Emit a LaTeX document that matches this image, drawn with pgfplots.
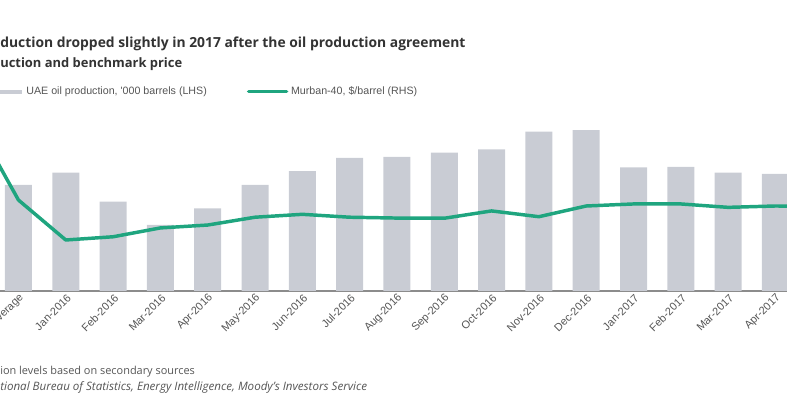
\documentclass[border=0pt]{standalone}
\usepackage{pgfplots}
\pgfplotsset{compat=1.18}
\usepackage{fontspec}
\setmainfont{Open Sans}
\newfontfamily\arialf{Liberation Sans}
\definecolor{bargray}{HTML}{C9CCD4}
\definecolor{murban}{HTML}{1FA57F}
\definecolor{axgray}{HTML}{8C8C8C}
\definecolor{titlecol}{HTML}{333333}
\definecolor{labcol}{HTML}{555555}

\pgfplotstableread{
x val
0 2929
1 2967
2 2877
3 2805
4 2856
5 2929
6 2972
7 3013
8 3016
9 3029
10 3039
11 3094
12 3099
13 2983
14 2985
15 2967
16 2963
}\prodtable

\pgfplotstableread{
x val
-1 103.5
0 53.5
1 30.0
2 31.9
3 37.1
4 38.8
5 43.4
6 45.1
7 43.4
8 42.9
9 42.8
10 47.1
11 43.7
12 50.0
13 51.2
14 51.2
15 49.2
16 50.0
17 49.8
}\murbantable

\begin{document}
\begin{tikzpicture}
\useasboundingbox (0pt,0pt) rectangle (590.25pt,299.25pt);
\clip (0pt,0pt) rectangle (590.25pt,299.25pt);
\node[anchor=base west, inner sep=0pt, font=\bfseries\fontsize{10.4}{12}\selectfont, text=titlecol] at (0pt,263.5pt) {duction dropped slightly in 2017 after the oil production agreement};
\node[anchor=base west, inner sep=0pt, font=\bfseries\fontsize{9.7}{11}\selectfont, text=titlecol] at (0pt,248.5pt) {uction and benchmark price};
\node[anchor=base west, inner sep=0pt, font=\fontsize{8.2}{9}\selectfont, text=labcol] at (0pt,18.75pt) {ion levels based on secondary sources};
\node[anchor=base west, inner sep=0pt, font=\itshape\fontsize{8.7}{10}\selectfont, text=labcol] at (0pt,6pt) {tional Bureau of Statistics, Energy Intelligence, Moody's Investors Service};

\begin{axis}[
  at={(-39.375pt,81pt)}, anchor=south west,
  scale only axis, width=674.2pt, height=143.25pt,
  xmin=-1.5, xmax=17.5, ymin=2600, ymax=3192.1,
  axis x line=bottom, axis y line=none,
  x axis line style={-, draw=axgray, line width=1.1pt},
  xtick={0,1,...,17},
  xticklabels={2015 Average,Jan-2016,Feb-2016,Mar-2016,Apr-2016,May-2016,Jun-2016,Jul-2016,Aug-2016,Sep-2016,Oct-2016,Nov-2016,Dec-2016,Jan-2017,Feb-2017,Mar-2017,Apr-2017,May-2017},
  major tick length=0pt,
  xticklabel style={rotate=45, anchor=east, font=\arialf\fontsize{8.2}{9}\selectfont, text=labcol, xshift=2.5pt, yshift=-4.5pt},
]
\addplot[ybar, bar width=20.25pt, fill=bargray, draw=none] table[x=x,y=val] {\prodtable};
\end{axis}

\begin{axis}[
  at={(-39.375pt,81pt)}, anchor=south west,
  scale only axis, width=674.2pt, height=143.25pt,
  xmin=-1.5, xmax=17.5, ymin=0, ymax=112.35,
  hide axis,
  legend columns=2,
  legend cell align=left,
  legend style={at={(0.0504,1.0444)}, anchor=west, draw=none, fill=none, inner sep=0pt,
    font=\arialf\fontsize{8}{9}\selectfont, text=labcol,
    /tikz/every even column/.append style={column sep=28pt}},
]
\addlegendimage{legend image code/.code={\draw[bargray, line width=3pt] (-5pt,0pt) -- (15pt,0pt);}}
\addlegendentry{UAE oil production, '000 barrels (LHS)}
\addplot[murban, line width=2.6pt, line join=round, line cap=round,
  legend image code/.code={\draw[murban, line width=2.6pt] (0pt,0pt) -- (28.5pt,0pt);}]
  table[x=x,y=val] {\murbantable};
\addlegendentry{Murban-40, \$/barrel (RHS)}
\end{axis}
\end{tikzpicture}
\end{document}
